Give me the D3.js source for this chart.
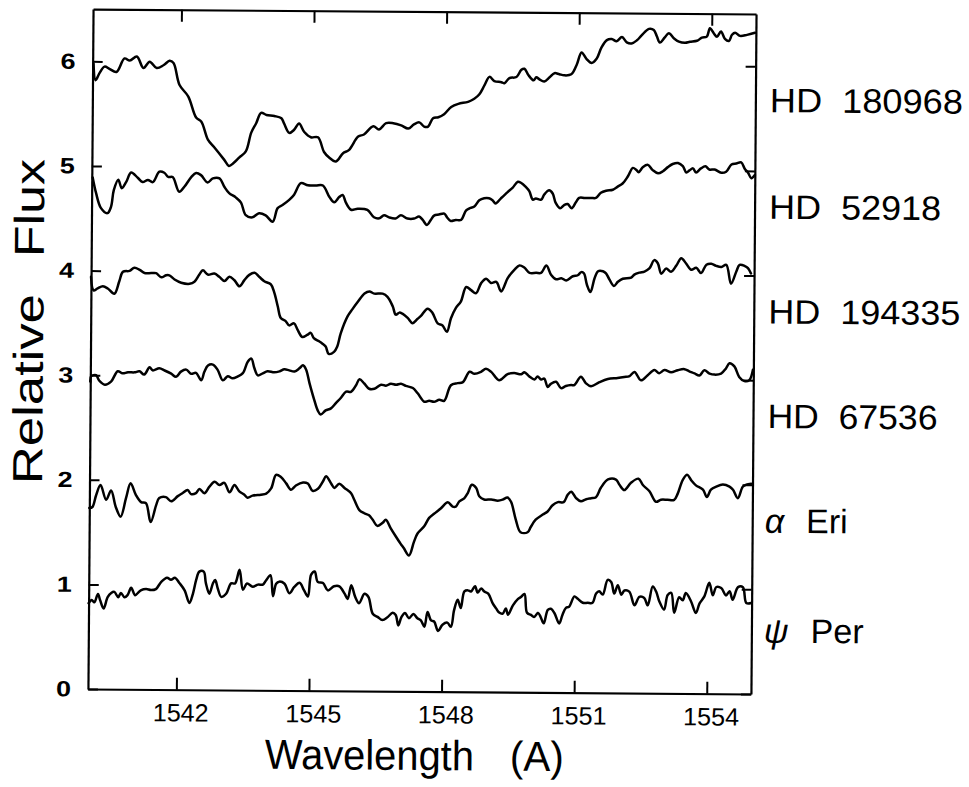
<!DOCTYPE html>
<html><head><meta charset="utf-8">
<script src="https://cdn.jsdelivr.net/npm/d3@7/dist/d3.min.js"></script>
<style>body{margin:0;background:#fff}svg{display:block}</style>
</head><body>
<svg id="chart" width="969" height="787"></svg>
<script>
// ---- data ----
const xTicks = [1542, 1545, 1548, 1551, 1554];
const yTicks = [0, 1, 2, 3, 4, 5, 6];
const starNames = ["HD 180968", "HD 52918", "HD 194335", "HD 67536", "Eri", "Per"];
const greekPrefix = ["", "", "", "", "α", "ψ"];
const labelFlux = [5.62, 4.6, 3.6, 2.6, 1.6, 0.55];

const hd180968 = [[1540.02,5.98],[1540.07,5.82],[1540.16,5.89],[1540.27,5.95],[1540.38,5.93],[1540.54,5.90],[1540.72,6.03],[1540.84,6.01],[1541.00,6.05],[1541.15,5.94],[1541.29,6.00],[1541.45,5.94],[1541.61,5.97],[1541.74,6.01],[1541.83,5.99],[1541.97,5.78],[1542.17,5.67],[1542.35,5.47],[1542.47,5.43],[1542.62,5.26],[1542.76,5.19],[1542.99,5.07],[1543.10,5.01],[1543.21,5.04],[1543.33,5.09],[1543.48,5.15],[1543.60,5.33],[1543.71,5.42],[1543.82,5.52],[1543.94,5.50],[1544.12,5.49],[1544.28,5.47],[1544.34,5.42],[1544.46,5.33],[1544.57,5.36],[1544.68,5.42],[1544.80,5.34],[1544.95,5.29],[1545.11,5.29],[1545.25,5.15],[1545.36,5.10],[1545.52,5.06],[1545.68,5.14],[1545.81,5.17],[1546.02,5.30],[1546.15,5.32],[1546.36,5.40],[1546.49,5.37],[1546.65,5.43],[1546.81,5.43],[1546.99,5.41],[1547.15,5.38],[1547.28,5.42],[1547.40,5.44],[1547.51,5.40],[1547.60,5.40],[1547.71,5.48],[1547.83,5.49],[1547.96,5.52],[1548.12,5.59],[1548.28,5.62],[1548.50,5.64],[1548.64,5.67],[1548.75,5.71],[1548.87,5.80],[1548.98,5.88],[1549.09,5.84],[1549.25,5.83],[1549.32,5.82],[1549.43,5.87],[1549.59,5.88],[1549.70,5.95],[1549.77,5.96],[1549.86,5.90],[1549.98,5.85],[1550.04,5.88],[1550.11,5.86],[1550.22,5.84],[1550.34,5.88],[1550.45,5.92],[1550.56,5.91],[1550.67,5.90],[1550.83,5.91],[1550.95,6.00],[1551.06,6.12],[1551.17,6.06],[1551.29,6.02],[1551.40,6.06],[1551.51,6.17],[1551.63,6.24],[1551.74,6.25],[1551.85,6.23],[1551.97,6.27],[1552.08,6.22],[1552.19,6.21],[1552.31,6.24],[1552.42,6.29],[1552.58,6.35],[1552.69,6.34],[1552.76,6.28],[1552.83,6.22],[1552.94,6.27],[1553.03,6.31],[1553.15,6.26],[1553.26,6.23],[1553.40,6.22],[1553.51,6.23],[1553.67,6.24],[1553.78,6.27],[1553.89,6.28],[1553.96,6.36],[1554.05,6.31],[1554.12,6.28],[1554.21,6.33],[1554.30,6.26],[1554.39,6.24],[1554.46,6.30],[1554.53,6.32],[1554.64,6.29],[1554.80,6.30],[1554.98,6.32]];

const hd52918 = [[1540.02,4.89],[1540.10,4.74],[1540.21,4.60],[1540.36,4.55],[1540.44,4.61],[1540.50,4.77],[1540.60,4.87],[1540.68,4.79],[1540.78,4.85],[1540.89,4.94],[1541.04,4.89],[1541.15,4.85],[1541.27,4.87],[1541.38,4.85],[1541.53,4.95],[1541.64,4.94],[1541.73,4.90],[1541.83,4.90],[1541.98,4.76],[1542.10,4.81],[1542.25,4.90],[1542.36,4.94],[1542.47,4.92],[1542.62,4.85],[1542.74,4.89],[1542.89,4.89],[1543.00,4.81],[1543.11,4.75],[1543.26,4.71],[1543.38,4.66],[1543.49,4.54],[1543.64,4.52],[1543.79,4.56],[1543.94,4.54],[1544.10,4.48],[1544.21,4.61],[1544.32,4.64],[1544.47,4.69],[1544.58,4.74],[1544.73,4.85],[1544.89,4.83],[1545.07,4.83],[1545.23,4.83],[1545.38,4.72],[1545.49,4.67],[1545.60,4.72],[1545.68,4.74],[1545.75,4.67],[1545.87,4.60],[1546.02,4.61],[1546.24,4.60],[1546.39,4.53],[1546.51,4.52],[1546.62,4.55],[1546.73,4.53],[1546.88,4.52],[1547.00,4.55],[1547.15,4.52],[1547.30,4.52],[1547.41,4.54],[1547.49,4.51],[1547.59,4.46],[1547.68,4.51],[1547.75,4.55],[1547.86,4.56],[1547.98,4.57],[1548.05,4.53],[1548.13,4.50],[1548.24,4.51],[1548.36,4.51],[1548.47,4.60],[1548.54,4.62],[1548.66,4.64],[1548.77,4.70],[1548.88,4.72],[1548.99,4.72],[1549.07,4.70],[1549.14,4.67],[1549.26,4.72],[1549.41,4.78],[1549.52,4.82],[1549.64,4.88],[1549.71,4.87],[1549.82,4.83],[1549.90,4.79],[1549.98,4.71],[1550.05,4.72],[1550.17,4.71],[1550.24,4.76],[1550.35,4.80],[1550.43,4.77],[1550.50,4.68],[1550.60,4.63],[1550.69,4.66],[1550.77,4.67],[1550.86,4.63],[1550.96,4.69],[1551.03,4.73],[1551.15,4.73],[1551.30,4.73],[1551.41,4.73],[1551.52,4.78],[1551.64,4.80],[1551.79,4.81],[1551.90,4.84],[1552.01,4.87],[1552.13,4.94],[1552.24,5.02],[1552.32,5.00],[1552.37,4.98],[1552.47,5.03],[1552.58,5.05],[1552.69,5.00],[1552.81,4.97],[1552.92,4.99],[1553.03,5.03],[1553.14,5.06],[1553.26,5.07],[1553.37,5.04],[1553.45,4.98],[1553.52,5.00],[1553.60,5.02],[1553.67,4.98],[1553.78,5.02],[1553.88,5.04],[1553.97,5.01],[1554.09,5.01],[1554.24,4.98],[1554.35,4.99],[1554.47,5.06],[1554.58,5.07],[1554.69,5.08],[1554.77,5.02],[1554.85,4.98],[1554.92,4.93],[1555.00,4.96]];

const hd194335 = [[1540.00,3.94],[1540.06,3.81],[1540.15,3.83],[1540.27,3.85],[1540.38,3.83],[1540.53,3.78],[1540.64,3.90],[1540.72,3.99],[1540.87,4.00],[1540.98,4.03],[1541.10,4.01],[1541.21,3.98],[1541.36,3.98],[1541.47,3.98],[1541.59,3.94],[1541.70,3.96],[1541.77,3.96],[1541.89,3.92],[1542.04,3.89],[1542.23,3.88],[1542.34,3.90],[1542.45,3.97],[1542.53,4.01],[1542.64,3.97],[1542.79,3.98],[1542.90,3.95],[1543.02,3.91],[1543.13,3.95],[1543.24,3.92],[1543.36,3.86],[1543.47,3.92],[1543.58,3.97],[1543.70,3.99],[1543.81,3.95],[1543.92,3.91],[1544.07,3.88],[1544.15,3.80],[1544.23,3.67],[1544.30,3.56],[1544.41,3.53],[1544.49,3.49],[1544.60,3.51],[1544.68,3.45],[1544.79,3.38],[1544.90,3.40],[1544.98,3.42],[1545.05,3.37],[1545.17,3.34],[1545.24,3.32],[1545.32,3.29],[1545.39,3.22],[1545.51,3.24],[1545.58,3.29],[1545.66,3.42],[1545.81,3.58],[1545.92,3.65],[1546.04,3.72],[1546.19,3.80],[1546.30,3.82],[1546.41,3.80],[1546.60,3.80],[1546.71,3.77],[1546.83,3.68],[1546.90,3.60],[1546.98,3.62],[1547.05,3.61],[1547.17,3.57],[1547.28,3.52],[1547.39,3.56],[1547.47,3.59],[1547.62,3.66],[1547.73,3.62],[1547.85,3.52],[1547.96,3.50],[1548.06,3.44],[1548.15,3.57],[1548.26,3.67],[1548.37,3.73],[1548.49,3.87],[1548.60,3.84],[1548.71,3.81],[1548.83,3.91],[1548.94,3.95],[1549.05,3.91],[1549.17,3.92],[1549.28,3.83],[1549.43,3.96],[1549.58,4.04],[1549.69,4.08],[1549.80,4.06],[1549.92,4.01],[1550.07,4.01],[1550.18,4.01],[1550.30,4.08],[1550.41,3.99],[1550.52,3.95],[1550.64,3.96],[1550.75,3.94],[1550.90,3.98],[1551.01,3.99],[1551.09,4.02],[1551.15,4.01],[1551.22,3.90],[1551.30,3.83],[1551.39,3.96],[1551.47,4.03],[1551.58,4.03],[1551.65,4.01],[1551.73,3.95],[1551.83,3.89],[1551.92,3.93],[1552.03,3.96],[1552.22,3.97],[1552.29,4.00],[1552.41,4.02],[1552.52,4.03],[1552.63,4.06],[1552.74,4.14],[1552.82,4.11],[1552.90,4.01],[1553.01,4.06],[1553.12,4.03],[1553.24,4.09],[1553.35,4.16],[1553.46,4.11],[1553.58,4.05],[1553.69,4.07],[1553.80,4.02],[1553.92,4.10],[1554.03,4.11],[1554.14,4.09],[1554.26,4.08],[1554.37,4.10],[1554.48,3.92],[1554.60,4.04],[1554.67,4.10],[1554.79,4.09],[1554.86,4.07],[1554.93,4.02]];

const hd67536 = [[1540.00,2.94],[1540.02,2.99],[1540.13,3.00],[1540.20,2.95],[1540.33,2.91],[1540.47,2.94],[1540.62,3.04],[1540.73,3.02],[1540.85,3.03],[1541.00,3.03],[1541.11,3.04],[1541.22,3.01],[1541.34,3.08],[1541.41,3.05],[1541.56,3.07],[1541.68,3.05],[1541.83,3.02],[1541.94,2.99],[1542.05,3.04],[1542.17,3.06],[1542.28,3.02],[1542.39,3.03],[1542.51,2.96],[1542.58,3.04],[1542.66,3.10],[1542.77,3.11],[1542.88,3.06],[1543.00,2.96],[1543.11,3.00],[1543.22,2.98],[1543.34,3.00],[1543.45,3.03],[1543.56,3.14],[1543.64,3.17],[1543.71,3.08],[1543.79,3.01],[1543.90,3.03],[1544.01,3.05],[1544.16,3.04],[1544.28,3.05],[1544.39,3.07],[1544.50,3.06],[1544.62,3.05],[1544.73,3.08],[1544.81,3.11],[1544.88,3.07],[1544.96,2.94],[1545.07,2.78],[1545.15,2.68],[1545.22,2.64],[1545.33,2.68],[1545.45,2.70],[1545.56,2.75],[1545.67,2.80],[1545.79,2.86],[1545.90,2.86],[1546.01,2.92],[1546.09,2.98],[1546.20,2.94],[1546.31,2.89],[1546.43,2.89],[1546.58,2.93],[1546.69,2.92],[1546.80,2.94],[1546.92,2.93],[1547.03,2.94],[1547.14,2.92],[1547.30,2.90],[1547.41,2.85],[1547.56,2.77],[1547.67,2.78],[1547.78,2.77],[1547.90,2.79],[1548.01,2.78],[1548.16,2.93],[1548.31,2.95],[1548.43,2.96],[1548.58,3.06],[1548.69,3.04],[1548.84,3.06],[1548.95,3.09],[1549.07,3.06],[1549.25,2.98],[1549.44,3.04],[1549.59,3.05],[1549.75,3.04],[1549.82,3.06],[1549.93,3.02],[1550.05,2.99],[1550.12,3.02],[1550.20,2.99],[1550.27,3.00],[1550.35,2.92],[1550.42,2.95],[1550.54,2.97],[1550.65,2.91],[1550.76,2.93],[1550.88,2.94],[1550.95,2.94],[1551.10,3.02],[1551.21,2.96],[1551.33,2.93],[1551.52,2.97],[1551.71,3.00],[1551.93,3.01],[1552.08,3.02],[1552.20,3.03],[1552.31,3.07],[1552.46,2.99],[1552.61,3.04],[1552.76,3.09],[1552.87,3.06],[1552.99,3.09],[1553.14,3.07],[1553.29,3.09],[1553.44,3.10],[1553.55,3.08],[1553.67,3.06],[1553.78,3.04],[1553.89,3.09],[1554.01,3.06],[1554.12,3.05],[1554.27,3.06],[1554.38,3.11],[1554.46,3.16],[1554.57,3.13],[1554.68,3.03],[1554.80,2.99],[1554.91,3.00],[1554.99,3.10]];

const alphaEri = [[1540.00,1.73],[1540.07,1.74],[1540.15,1.85],[1540.25,1.95],[1540.38,1.81],[1540.49,1.90],[1540.60,1.74],[1540.71,1.65],[1540.83,1.83],[1540.93,1.97],[1541.05,1.86],[1541.17,1.79],[1541.28,1.78],[1541.39,1.60],[1541.51,1.76],[1541.58,1.83],[1541.73,1.84],[1541.85,1.80],[1542.00,1.85],[1542.11,1.88],[1542.22,1.91],[1542.30,1.87],[1542.41,1.88],[1542.49,1.92],[1542.60,1.88],[1542.71,1.94],[1542.83,1.99],[1542.94,1.96],[1543.05,1.98],[1543.17,1.89],[1543.28,1.96],[1543.39,1.90],[1543.50,1.87],[1543.58,1.84],[1543.69,1.86],[1543.88,1.87],[1544.00,1.88],[1544.11,1.93],[1544.22,2.06],[1544.33,2.04],[1544.45,1.98],[1544.56,1.92],[1544.67,1.96],[1544.83,1.99],[1544.94,1.98],[1545.05,1.91],[1545.17,1.93],[1545.28,2.00],[1545.35,2.05],[1545.47,1.98],[1545.54,1.94],[1545.65,1.98],[1545.77,1.94],[1545.92,1.89],[1545.99,1.83],[1546.11,1.73],[1546.22,1.70],[1546.33,1.68],[1546.41,1.64],[1546.52,1.58],[1546.64,1.61],[1546.71,1.64],[1546.82,1.56],[1546.94,1.48],[1547.05,1.41],[1547.12,1.37],[1547.24,1.30],[1547.35,1.43],[1547.43,1.51],[1547.58,1.58],[1547.69,1.66],[1547.80,1.70],[1547.95,1.75],[1548.11,1.81],[1548.22,1.77],[1548.29,1.77],[1548.37,1.82],[1548.48,1.85],[1548.56,1.90],[1548.65,1.98],[1548.75,1.95],[1548.82,1.87],[1548.93,1.84],[1549.09,1.84],[1549.24,1.83],[1549.35,1.84],[1549.46,1.86],[1549.54,1.82],[1549.65,1.65],[1549.76,1.53],[1549.92,1.53],[1549.99,1.58],[1550.10,1.65],[1550.26,1.70],[1550.37,1.73],[1550.48,1.79],[1550.60,1.82],[1550.73,1.82],[1550.82,1.89],[1550.90,1.92],[1551.01,1.86],[1551.12,1.83],[1551.24,1.85],[1551.35,1.86],[1551.46,1.87],[1551.57,1.96],[1551.73,2.04],[1551.91,2.04],[1551.99,1.99],[1552.10,1.94],[1552.25,2.01],[1552.42,2.05],[1552.52,1.99],[1552.67,1.93],[1552.82,1.83],[1552.93,1.85],[1553.08,1.85],[1553.23,1.85],[1553.31,1.91],[1553.42,2.04],[1553.52,2.09],[1553.61,2.04],[1553.72,1.99],[1553.88,1.95],[1553.97,1.88],[1554.06,1.95],[1554.18,1.98],[1554.33,2.00],[1554.48,1.98],[1554.56,1.95],[1554.67,1.87],[1554.78,1.98],[1554.86,2.00],[1554.97,2.01]];

const psiPer = [[1540.00,0.82],[1540.07,0.85],[1540.13,0.83],[1540.21,0.91],[1540.26,0.85],[1540.34,0.77],[1540.43,0.88],[1540.51,0.92],[1540.58,0.93],[1540.67,0.88],[1540.73,0.92],[1540.81,0.88],[1540.88,0.90],[1540.96,0.97],[1541.05,0.90],[1541.11,0.92],[1541.19,0.95],[1541.30,0.96],[1541.41,0.95],[1541.52,0.96],[1541.64,1.03],[1541.77,1.07],[1541.86,1.05],[1541.95,1.07],[1542.05,1.02],[1542.17,0.95],[1542.28,0.83],[1542.36,0.92],[1542.43,1.05],[1542.50,1.13],[1542.60,1.13],[1542.65,1.02],[1542.73,0.92],[1542.81,1.02],[1542.86,1.05],[1542.92,0.97],[1543.00,0.89],[1543.11,0.92],[1543.22,1.02],[1543.31,1.02],[1543.41,1.15],[1543.49,0.96],[1543.58,1.02],[1543.71,0.99],[1543.83,1.01],[1543.94,1.01],[1544.01,1.05],[1544.11,1.10],[1544.17,0.90],[1544.24,1.02],[1544.31,1.04],[1544.43,1.02],[1544.54,0.93],[1544.65,0.99],[1544.77,1.03],[1544.87,0.96],[1544.96,0.90],[1545.03,1.11],[1545.11,1.14],[1545.18,1.04],[1545.30,1.03],[1545.41,0.96],[1545.55,1.00],[1545.67,1.00],[1545.79,0.93],[1545.86,0.88],[1545.94,1.01],[1546.03,0.90],[1546.12,0.84],[1546.24,0.93],[1546.33,0.90],[1546.43,0.74],[1546.54,0.71],[1546.65,0.68],[1546.77,0.71],[1546.88,0.75],[1546.95,0.73],[1547.01,0.63],[1547.08,0.71],[1547.16,0.75],[1547.25,0.70],[1547.35,0.74],[1547.44,0.70],[1547.52,0.68],[1547.60,0.62],[1547.67,0.76],[1547.75,0.68],[1547.82,0.67],[1547.91,0.58],[1548.01,0.64],[1548.12,0.66],[1548.20,0.62],[1548.27,0.78],[1548.35,0.88],[1548.42,0.80],[1548.50,0.96],[1548.58,0.97],[1548.65,0.96],[1548.74,1.01],[1548.80,0.95],[1548.88,0.99],[1548.95,0.96],[1549.04,0.94],[1549.14,0.85],[1549.22,0.80],[1549.29,0.76],[1549.37,0.75],[1549.44,0.80],[1549.49,0.74],[1549.60,0.83],[1549.71,0.89],[1549.78,0.91],[1549.86,0.94],[1549.92,0.76],[1550.01,0.74],[1550.08,0.72],[1550.17,0.76],[1550.23,0.72],[1550.30,0.66],[1550.39,0.79],[1550.46,0.80],[1550.54,0.76],[1550.65,0.66],[1550.72,0.74],[1550.80,0.81],[1550.87,0.82],[1550.99,0.92],[1551.06,0.90],[1551.18,0.86],[1551.29,0.86],[1551.40,0.86],[1551.48,0.95],[1551.55,0.97],[1551.63,0.94],[1551.74,1.08],[1551.82,1.06],[1551.89,0.95],[1551.97,1.03],[1552.05,0.94],[1552.12,0.98],[1552.23,0.97],[1552.35,0.84],[1552.46,0.92],[1552.57,0.91],[1552.65,0.84],[1552.76,1.02],[1552.84,0.97],[1552.91,0.88],[1553.02,0.80],[1553.10,0.94],[1553.18,0.96],[1553.25,0.77],[1553.36,0.92],[1553.44,0.89],[1553.51,0.96],[1553.63,0.88],[1553.74,0.77],[1553.82,0.86],[1553.93,0.93],[1554.04,1.06],[1554.12,0.94],[1554.20,1.02],[1554.31,1.01],[1554.42,0.94],[1554.50,0.98],[1554.57,0.90],[1554.69,1.02],[1554.80,1.02],[1554.88,0.87],[1554.99,0.87]];

const spectra = [hd180968, hd52918, hd194335, hd67536, alphaEri, psiPer];

// ---- drawing ----
const svg = d3.select("#chart");
const x = d3.scaleLinear().domain([1540, 1555]).range([90.5, 753.5]);
const y = d3.scaleLinear().domain([0, 6.5]).range([691.5, 11.5]);
const FONT = "'Liberation Sans', Arial, Helvetica, sans-serif";

// the scanned figure is slightly tilted
const g = svg.append("g").attr("transform", "rotate(0.43,422,351)");

// axes (ticks point inward)
const axBottom = g.append("g").attr("transform", `translate(0,${y(0)})`)
  .call(d3.axisBottom(x).tickValues(xTicks).tickSizeInner(-12).tickSizeOuter(0).tickPadding(14).tickFormat(d3.format("d")));
const axTop = g.append("g").attr("transform", `translate(0,${y(6.5)})`)
  .call(d3.axisTop(x).tickValues(xTicks).tickSizeInner(-12).tickSizeOuter(0).tickFormat(""));
const axLeft = g.append("g").attr("transform", `translate(${x(1540)},0)`)
  .call(d3.axisLeft(y).tickValues(yTicks).tickSizeInner(-10).tickSizeOuter(0).tickPadding(12).tickFormat(d3.format("d")));
const axRight = g.append("g").attr("transform", `translate(${x(1555)},0)`)
  .call(d3.axisRight(y).tickValues(yTicks).tickSizeInner(-10).tickSizeOuter(0).tickFormat(""));

[axBottom, axTop, axLeft, axRight].forEach(a => {
  a.select(".domain").attr("stroke", "#000").attr("stroke-width", 2.2);
  a.selectAll(".tick line").attr("stroke", "#000").attr("stroke-width", 2);
});
axBottom.selectAll(".tick text").attr("font-family", FONT).attr("font-size", 25)
  .attr("fill", "#000").attr("dx", 4).attr("textLength", 56).attr("lengthAdjust", "spacingAndGlyphs");
axLeft.selectAll(".tick text").attr("font-family", FONT).attr("font-size", 22)
  .attr("font-weight", "bold").attr("fill", "#000").attr("dx", -5)
  .attr("textLength", 15).attr("lengthAdjust", "spacingAndGlyphs");

// spectra
const line = d3.line().x(d => x(d[0])).y(d => y(d[1])).curve(d3.curveCatmullRom.alpha(0.5));
g.append("g").selectAll("path").data(spectra).join("path")
  .attr("d", line).attr("fill", "none").attr("stroke", "#000")
  .attr("stroke-width", 2.5).attr("stroke-linejoin", "round").attr("stroke-linecap", "round");

// star labels (right)
const lab = g.append("g").attr("font-family", FONT).attr("font-size", 34).attr("fill", "#000");
starNames.forEach((name, i) => {
  const t = lab.append("text").attr("x", 768).attr("y", y(labelFlux[i]) + 6);
  if (greekPrefix[i]) {
    t.attr("x", 766);
    t.append("tspan").attr("font-style", "italic").text(greekPrefix[i]);
    t.append("tspan").attr("dx", 22).text(name);
  } else {
    t.text(name.replace(" ", "\u00a0\u00a0"))
     .attr("textLength", [193, 172, 192, 170][i]).attr("lengthAdjust", "spacingAndGlyphs");
  }
});

// axis titles
const xt = g.append("g").attr("font-family", FONT).attr("font-size", 42).attr("fill", "#000");
xt.append("text").attr("x", 268).attr("y", 770).attr("textLength", 209).attr("lengthAdjust", "spacingAndGlyphs").text("Wavelength");
xt.append("text").attr("x", 513).attr("y", 770).attr("textLength", 54).attr("lengthAdjust", "spacingAndGlyphs").text("(A)");

const yt = g.append("g").attr("transform", "translate(43,487) rotate(-90)")
  .attr("font-family", FONT).attr("font-size", 42).attr("fill", "#000");
yt.append("text").attr("x", 0).attr("y", 0).attr("textLength", 190).attr("lengthAdjust", "spacingAndGlyphs").text("Relative");
yt.append("text").attr("x", 227).attr("y", 0).attr("textLength", 98).attr("lengthAdjust", "spacingAndGlyphs").text("Flux");
</script>
</body></html>
